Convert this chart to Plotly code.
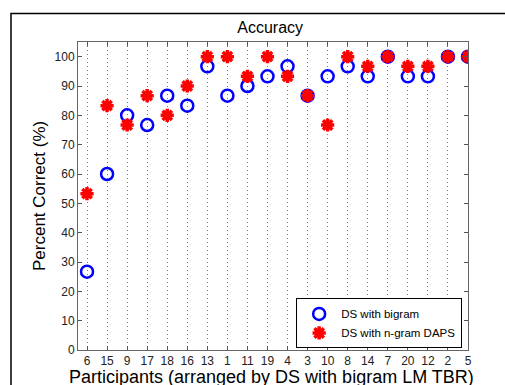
import plotly.graph_objects as go

participants = ["6", "15", "9", "17", "18", "16", "13", "1", "11", "19",
                "4", "3", "10", "8", "14", "7", "20", "12", "2", "5"]
ds_bigram = [26.7, 60.0, 80.0, 76.7, 86.7, 83.3, 96.7, 86.7, 90.0, 93.3,
             96.7, 86.7, 93.3, 96.7, 93.3, 100.0, 93.3, 93.3, 100.0, 100.0]
ds_ngram_daps = [53.3, 83.3, 76.7, 86.7, 80.0, 90.0, 100.0, 100.0, 93.3, 100.0,
                 93.3, 86.7, 76.7, 100.0, 96.7, 100.0, 96.7, 96.7, 100.0, 100.0]
y_ticks = [0, 10, 20, 30, 40, 50, 60, 70, 80, 90, 100]

FONT = "Liberation Sans, Arial, sans-serif"

fig = go.Figure()
fig.add_trace(go.Scatter(
    x=participants, y=ds_bigram, mode="markers", name="DS with bigram",
    marker=dict(symbol="circle-open", size=12, color="#0000ff",
                line=dict(width=2.5, color="#0000ff")),
))
fig.add_trace(go.Scatter(
    x=participants, y=ds_ngram_daps, mode="markers", name="DS with n-gram DAPS",
    marker=dict(symbol="asterisk", size=11, color="#ff0000",
                line=dict(width=3.5, color="#ff0000")),
))

fig.update_layout(
    width=505, height=385,
    margin=dict(l=78, r=37, t=42, b=35),
    paper_bgcolor="white", plot_bgcolor="white",
    font=dict(family=FONT, color="#000"),
    title=dict(text="Accuracy", x=0.535, xanchor="center", y=1 - 27 / 385,
               yanchor="middle", font=dict(size=16, family=FONT)),
    showlegend=True,
    legend=dict(x=0.985, xanchor="right", y=0.005, yanchor="bottom",
                bordercolor="#000", borderwidth=1, bgcolor="white",
                font=dict(size=11.5, family=FONT), tracegroupgap=0,
                itemwidth=34),
    xaxis=dict(
        type="category", categoryorder="array", categoryarray=participants,
        range=[-0.45, 19], showgrid=True, gridcolor="#777",
        griddash="1px,3px", automargin=False,
        gridwidth=1, ticks="inside", ticklen=4, tickcolor="#555",
        showline=True, linecolor="#666", linewidth=1, mirror="ticks",
        tickfont=dict(size=12, color="#222"), zeroline=False,
    ),
    yaxis=dict(
        range=[0, 105], tickvals=y_ticks, showgrid=False, ticks="inside",
        ticklen=4, tickcolor="#555", showline=True, linecolor="#666",
        linewidth=1, mirror="ticks", tickfont=dict(size=12, color="#222"),
        zeroline=False, automargin=False,
    ),
    annotations=[
        dict(text="Participants (arranged by DS with bigram LM TBR)",
             xref="paper", yref="paper", x=0.495, y=(350 - 377) / 308,
             xanchor="center", yanchor="middle", showarrow=False,
             font=dict(size=18, family=FONT, color="#000")),
        dict(text="Percent Correct (%)", textangle=-90,
             xref="paper", yref="paper", x=(39 - 78) / 390, y=0.5,
             xanchor="center", yanchor="middle", showarrow=False,
             font=dict(size=17, family=FONT, color="#000")),
    ],
    shapes=[dict(type="rect", xref="paper", yref="paper",
                 x0=(11 - 78) / 390, x1=1.3, y0=-0.3, y1=(350 - 13.5) / 308,
                 line=dict(color="#000", width=1.5), layer="below")],
)

fig.write_html("out.html")
